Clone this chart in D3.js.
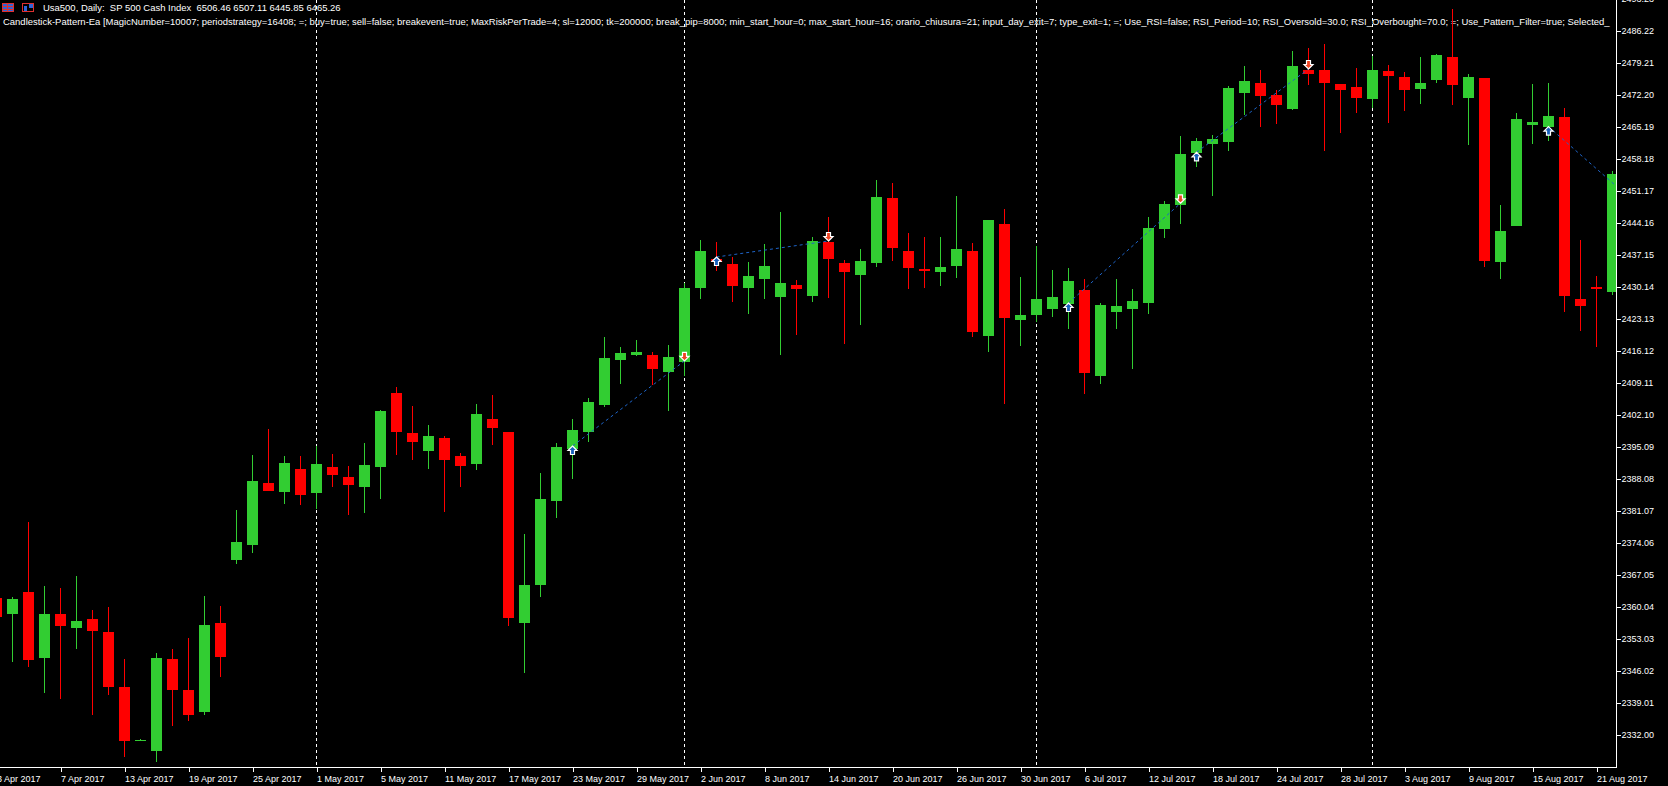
<!DOCTYPE html>
<html><head><meta charset="utf-8">
<script src="https://cdn.jsdelivr.net/npm/d3@7"></script>
<style>
html,body{margin:0;padding:0;background:#000;overflow:hidden}
svg{display:block}
text{font-family:"Liberation Sans",Arial,sans-serif;fill:#fff;font-size:9px}
</style></head><body>
<svg id="c" width="1668" height="786"></svg>
<script>
const dates = ["2017-04-03","2017-04-04","2017-04-05","2017-04-06","2017-04-07","2017-04-10","2017-04-11","2017-04-12","2017-04-13","2017-04-14",
"2017-04-17","2017-04-18","2017-04-19","2017-04-20","2017-04-21","2017-04-24","2017-04-25","2017-04-26","2017-04-27","2017-04-28",
"2017-05-01","2017-05-02","2017-05-03","2017-05-04","2017-05-05","2017-05-08","2017-05-09","2017-05-10","2017-05-11","2017-05-12",
"2017-05-15","2017-05-16","2017-05-17","2017-05-18","2017-05-19","2017-05-22","2017-05-23","2017-05-24","2017-05-25","2017-05-26",
"2017-05-29","2017-05-30","2017-05-31","2017-06-01","2017-06-02","2017-06-05","2017-06-06","2017-06-07","2017-06-08","2017-06-09",
"2017-06-12","2017-06-13","2017-06-14","2017-06-15","2017-06-16","2017-06-19","2017-06-20","2017-06-21","2017-06-22","2017-06-23",
"2017-06-26","2017-06-27","2017-06-28","2017-06-29","2017-06-30","2017-07-03","2017-07-04","2017-07-05","2017-07-06","2017-07-07",
"2017-07-10","2017-07-11","2017-07-12","2017-07-13","2017-07-14","2017-07-17","2017-07-18","2017-07-19","2017-07-20","2017-07-21",
"2017-07-24","2017-07-25","2017-07-26","2017-07-27","2017-07-28","2017-07-31","2017-08-01","2017-08-02","2017-08-03","2017-08-04",
"2017-08-07","2017-08-08","2017-08-09","2017-08-10","2017-08-11","2017-08-14","2017-08-15","2017-08-16","2017-08-17","2017-08-18",
"2017-08-21","2017-08-22"];

const open = [2361.89,2358.51,2363.27,2348.88,2358.45,2355.45,2357.35,2354.50,2342.46,2330.63,
2328.50,2348.59,2341.80,2337.05,2356.48,2370.34,2373.63,2387.14,2385.24,2390.21,
2385.02,2390.65,2388.46,2386.33,2390.71,2406.86,2398.10,2394.22,2397.00,2393.06,
2391.37,2401.16,2398.32,2356.54,2364.87,2383.27,2394.66,2398.38,2404.30,2414.15,
2415.25,2415.18,2411.53,2413.72,2429.93,2436.28,2435.12,2429.93,2431.90,2427.95,
2430.52,2428.17,2439.94,2435.34,2432.77,2435.40,2449.58,2437.97,2434.02,2433.43,
2434.75,2437.97,2419.41,2443.88,2422.92,2424.01,2425.33,2426.42,2429.42,2410.65,
2424.67,2425.33,2426.64,2442.85,2448.11,2459.50,2461.47,2461.91,2472.64,2474.77,
2472.14,2469.07,2477.62,2477.62,2474.55,2473.89,2471.33,2477.40,2476.08,2473.52,
2475.49,2480.46,2471.55,2475.86,2435.62,2443.51,2465.63,2465.20,2467.32,2427.45,
2430.08,2429.05];

const high = [2363.70,2362.11,2378.60,2364.58,2364.14,2366.77,2359.32,2359.98,2348.59,2331.06,
2349.90,2350.78,2353.26,2362.39,2360.20,2381.23,2393.28,2398.97,2393.06,2393.06,
2395.25,2393.50,2390.87,2395.91,2403.14,2408.17,2404.01,2399.85,2397.44,2393.72,
2404.45,2406.42,2398.32,2375.97,2389.33,2395.91,2401.16,2405.76,2419.13,2416.94,
2418.47,2415.84,2417.37,2430.96,2440.38,2439.94,2436.65,2435.56,2439.50,2446.51,
2431.61,2441.03,2445.41,2435.99,2438.40,2453.52,2452.86,2441.91,2441.03,2441.03,
2450.01,2439.72,2444.76,2447.17,2432.27,2439.06,2433.80,2434.24,2431.83,2426.57,
2431.83,2429.64,2445.41,2448.92,2463.16,2462.72,2463.38,2474.11,2478.49,2477.62,
2473.23,2481.78,2482.44,2483.31,2474.55,2478.05,2480.68,2478.71,2477.18,2480.46,
2481.12,2490.98,2476.74,2475.86,2448.04,2468.20,2474.55,2474.77,2469.29,2440.38,
2432.49,2455.49];

const low = [2356.04,2348.00,2346.90,2341.21,2339.89,2350.85,2336.39,2340.77,2327.19,2330.63,
2326.09,2333.98,2335.07,2336.39,2344.71,2369.47,2371.88,2385.30,2382.61,2382.39,
2381.52,2386.33,2380.20,2380.64,2383.70,2393.34,2392.25,2390.28,2380.86,2386.33,
2390.06,2395.53,2355.88,2345.59,2362.24,2379.54,2388.09,2396.19,2403.86,2408.90,
2415.03,2408.68,2402.98,2410.65,2427.52,2433.65,2426.86,2424.23,2427.52,2415.25,
2419.63,2426.86,2427.74,2417.66,2421.82,2434.53,2435.84,2429.71,2429.93,2430.36,
2432.12,2419.19,2415.91,2404.52,2417.22,2422.41,2423.57,2420.95,2406.71,2408.90,
2420.95,2412.18,2424.23,2440.88,2443.95,2456.43,2450.08,2459.94,2467.82,2465.20,
2465.85,2468.85,2474.40,2459.94,2463.88,2468.26,2469.36,2466.07,2468.70,2470.23,
2474.83,2470.01,2461.25,2434.53,2431.90,2443.51,2461.47,2462.13,2424.67,2420.51,
2417.00,2428.39];

const close = [2357.86,2361.73,2348.44,2358.45,2355.88,2356.91,2354.79,2342.52,2330.69,2330.85,
2348.81,2341.86,2336.39,2356.04,2349.09,2374.22,2387.58,2385.46,2391.53,2384.58,
2391.31,2388.96,2386.77,2391.09,2402.92,2398.38,2396.19,2397.44,2392.25,2390.93,
2402.26,2399.26,2357.64,2364.80,2383.64,2395.03,2398.75,2404.89,2414.53,2415.62,
2415.84,2412.18,2414.75,2429.86,2437.97,2435.56,2430.36,2432.49,2434.68,2430.96,
2429.71,2440.16,2436.28,2433.43,2435.78,2449.80,2438.69,2434.31,2433.65,2434.46,
2438.40,2420.29,2444.76,2423.35,2423.95,2427.45,2427.89,2431.39,2411.31,2426.14,
2425.92,2427.01,2443.00,2448.26,2459.21,2462.06,2462.50,2473.67,2475.21,2471.99,
2470.01,2478.49,2476.81,2474.83,2473.30,2471.55,2477.62,2476.37,2473.30,2474.77,
2480.90,2474.40,2476.08,2435.84,2442.35,2466.88,2466.22,2467.54,2428.17,2425.98,
2429.71,2454.83];

const dateTickDates = ["2017-04-03","2017-04-07","2017-04-13","2017-04-19","2017-04-25","2017-05-01","2017-05-05","2017-05-11","2017-05-17",
"2017-05-23","2017-05-29","2017-06-02","2017-06-08","2017-06-14","2017-06-20","2017-06-26","2017-06-30","2017-07-06","2017-07-12",
"2017-07-18","2017-07-24","2017-07-28","2017-08-03","2017-08-09","2017-08-15","2017-08-21"];
const dateTickLabels = ["3 Apr 2017","7 Apr 2017","13 Apr 2017","19 Apr 2017","25 Apr 2017","1 May 2017","5 May 2017","11 May 2017","17 May 2017",
"23 May 2017","29 May 2017","2 Jun 2017","8 Jun 2017","14 Jun 2017","20 Jun 2017","26 Jun 2017","30 Jun 2017","6 Jul 2017","12 Jul 2017",
"18 Jul 2017","24 Jul 2017","28 Jul 2017","3 Aug 2017","9 Aug 2017","15 Aug 2017","21 Aug 2017"];

const periodSeparatorDates = ["2017-05-01","2017-06-01","2017-07-03","2017-08-01"];

const priceTickLabels = ["2332.00","2339.01","2346.02","2353.03","2360.04","2367.05","2374.06","2381.07","2388.08","2395.09",
"2402.10","2409.11","2416.12","2423.13","2430.14","2437.15","2444.16","2451.17","2458.18","2465.19",
"2472.20","2479.21","2486.22","2493.23"];

// trades: bar index of entry/exit and prices
const tradeEntryIdx = [36, 45, 67, 75, 97];
const tradeEntryPrice = [2395.25, 2436.65, 2426.57, 2459.59, 2465.20];
const tradeExitIdx = [43, 52, 74, 82, 103];
const tradeExitPrice = [2413.88, 2440.16, 2448.42, 2477.84, 2446.75];
const tradeClosedOnChart = [true, true, true, true, false];

const headerLine1 = "Usa500, Daily:  SP 500 Cash Index  6506.46 6507.11 6445.85 6465.26";
const headerLine2 = "Candlestick-Pattern-Ea [MagicNumber=10007; periodstrategy=16408; =; buy=true; sell=false; breakevent=true; MaxRiskPerTrade=4; sl=12000; tk=200000; break_pip=8000; min_start_hour=0; max_start_hour=16; orario_chiusura=21; input_day_exit=7; type_exit=1; =; Use_RSI=false; RSI_Period=10; RSI_Oversold=30.0; RSI_Overbought=70.0; =; Use_Pattern_Filter=true; Selected_";

// ---- layout ----
const W = 1668, H = 786;
const plotRight = 1616, plotBottom = 767;
const barStep = 16, bodyW = 11;
const lastCenter = 1612.5;
const priceTop = 2492.95, priceBottom = 2324.93;
const upColor = "#32CD32", downColor = "#FF0000";
const headerLeft = 3, headerRight = 1613;

const n = dates.length;
const x = d3.scaleLinear().domain([0, n - 1]).range([lastCenter - barStep * (n - 1), lastCenter]);
const y = d3.scaleLinear().domain([priceBottom, priceTop]).range([plotBottom, 0]);
const idxOf = d => dates.indexOf(d);

const svg = d3.select("#c");
svg.append("rect").attr("width", W).attr("height", H).attr("fill", "#000");
const plot = svg.append("g");

// header
const hdr = plot.append("g");
const h1 = hdr.append("text").attr("x", 43).attr("y", 11).attr("xml:space", "preserve").style("white-space", "pre").text(headerLine1);
const h2 = hdr.append("text").attr("x", headerLeft).attr("y", 25).attr("xml:space", "preserve").style("white-space", "pre").text(headerLine2);
// fit header font so the second line spans the plot width as in the reference
h2.style("font-size", "10px");
const w10 = h2.node().getComputedTextLength();
const hdrSize = 10 * (headerRight - headerLeft) / w10;
h2.style("font-size", hdrSize + "px");
h1.style("font-size", hdrSize + "px");

// header icons
const ic1 = hdr.append("g").attr("shape-rendering", "crispEdges");
ic1.append("rect").attr("x", 2.5).attr("y", 3.5).attr("width", 11).attr("height", 8).attr("fill", "#2F64D8").attr("stroke", "#E03030");
ic1.append("line").attr("x1", 3).attr("x2", 13).attr("y1", 6.5).attr("y2", 6.5).attr("stroke", "#E03030");
ic1.append("line").attr("x1", 3).attr("x2", 13).attr("y1", 9.5).attr("y2", 9.5).attr("stroke", "#E03030");
ic1.append("line").attr("x1", 7.5).attr("x2", 7.5).attr("y1", 4).attr("y2", 11).attr("stroke", "#E03030");
const ic2 = hdr.append("g").attr("shape-rendering", "crispEdges");
ic2.append("rect").attr("x", 22.5).attr("y", 3.5).attr("width", 11).attr("height", 8).attr("fill", "#000").attr("stroke", "#E03030");
ic2.append("rect").attr("x", 24).attr("y", 6).attr("width", 3).attr("height", 5).attr("fill", "#2F64D8");
ic2.append("rect").attr("x", 29).attr("y", 4).attr("width", 4).attr("height", 4).attr("fill", "#2F64D8");

// clipped chart content
const defs = svg.append("defs");
defs.append("clipPath").attr("id", "plot").append("rect").attr("x", 0).attr("y", 0).attr("width", plotRight).attr("height", plotBottom);
const body = svg.append("g").attr("clip-path", "url(#plot)");

// period separators
body.append("g").selectAll("line").data(periodSeparatorDates).join("line")
  .attr("x1", d => x(idxOf(d))).attr("x2", d => x(idxOf(d)))
  .attr("y1", 0).attr("y2", plotBottom)
  .attr("stroke", "#fff").attr("stroke-width", 1).attr("stroke-dasharray", "3,3");

// candles
const bars = d3.range(n);
const cg = body.append("g").attr("shape-rendering", "crispEdges");
const col = i => close[i] >= open[i] ? upColor : downColor;
cg.selectAll("rect.wick").data(bars).join("rect").attr("class", "wick")
  .attr("x", i => x(i) - 0.5).attr("width", 1)
  .attr("y", i => Math.round(y(high[i])))
  .attr("height", i => Math.max(1, Math.round(y(low[i])) - Math.round(y(high[i]))))
  .attr("fill", col);
cg.selectAll("rect.body").data(bars).join("rect").attr("class", "body")
  .attr("x", i => x(i) - bodyW / 2).attr("width", bodyW)
  .attr("y", i => Math.round(y(Math.max(open[i], close[i]))))
  .attr("height", i => Math.max(1, Math.round(y(Math.min(open[i], close[i]))) - Math.round(y(Math.max(open[i], close[i])))))
  .attr("fill", col);

// trade lines
const trades = d3.range(tradeEntryIdx.length);
body.append("g").selectAll("line").data(trades).join("line")
  .attr("x1", t => x(tradeEntryIdx[t])).attr("y1", t => y(tradeEntryPrice[t]))
  .attr("x2", t => x(tradeExitIdx[t])).attr("y2", t => y(tradeExitPrice[t]))
  .attr("stroke", "#1E64C8").attr("stroke-width", 1).attr("stroke-dasharray", "3,3");

// arrows
const upArrow = "M0,0 L4.5,4.5 L2,4.5 L2,8.5 L-2,8.5 L-2,4.5 L-4.5,4.5 Z";
const downArrow = "M0,0 L4.5,-4.5 L2,-4.5 L2,-8.5 L-2,-8.5 L-2,-4.5 L-4.5,-4.5 Z";
body.append("g").selectAll("path").data(trades).join("path")
  .attr("d", upArrow)
  .attr("transform", t => `translate(${x(tradeEntryIdx[t])},${y(tradeEntryPrice[t])})`)
  .attr("fill", "#1560BD").attr("stroke", "#fff").attr("stroke-width", 1.2).attr("stroke-linejoin", "miter");
body.append("g").selectAll("path").data(trades.filter(t => tradeClosedOnChart[t])).join("path")
  .attr("d", downArrow)
  .attr("transform", t => `translate(${x(tradeExitIdx[t])},${y(tradeExitPrice[t])})`)
  .attr("fill", "#EE4422").attr("stroke", "#fff").attr("stroke-width", 1.2).attr("stroke-linejoin", "miter");

// axes
const ax = svg.append("g");
ax.append("line").attr("x1", plotRight + 0.5).attr("x2", plotRight + 0.5).attr("y1", 0).attr("y2", plotBottom + 1)
  .attr("stroke", "#fff").attr("shape-rendering", "crispEdges");
ax.append("line").attr("x1", 0).attr("x2", plotRight + 1).attr("y1", plotBottom + 0.5).attr("y2", plotBottom + 0.5)
  .attr("stroke", "#fff").attr("shape-rendering", "crispEdges");

// price axis
const yAxis = d3.axisRight(y).tickValues(priceTickLabels.map(Number)).tickFormat((d, i) => priceTickLabels[i]).tickSize(4).tickPadding(1);
const yg = svg.append("g").attr("transform", `translate(${plotRight + 0.5},0)`).call(yAxis);
yg.select(".domain").remove();
yg.selectAll(".tick line").attr("stroke", "#fff").attr("shape-rendering", "crispEdges");
yg.selectAll(".tick text").attr("fill", "#fff").style("font-family", '"Liberation Sans",Arial,sans-serif').style("font-size", "9px");

// date axis
const tickIdx = dateTickDates.map(idxOf);
const xAxis = d3.axisBottom(x).tickValues(tickIdx).tickFormat((d, i) => dateTickLabels[i]).tickSize(4).tickPadding(4);
const xg = svg.append("g").attr("transform", `translate(0,${plotBottom + 0.5})`).call(xAxis);
xg.select(".domain").remove();
xg.selectAll(".tick line").attr("stroke", "#fff").attr("shape-rendering", "crispEdges");
xg.selectAll(".tick text").attr("fill", "#fff").attr("text-anchor", "start").attr("x", 0)
  .style("font-family", '"Liberation Sans",Arial,sans-serif').style("font-size", "9px");
</script>
</body></html>
